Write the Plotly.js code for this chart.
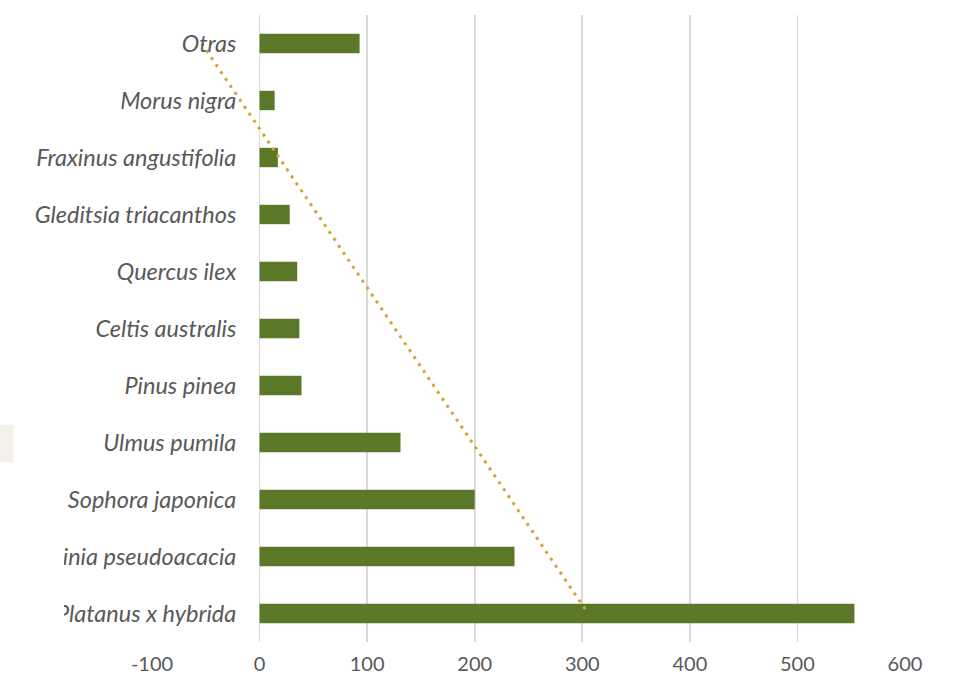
<!DOCTYPE html>
<html>
<head>
<meta charset="utf-8">
<script src="https://cdn.plot.ly/plotly-3.0.1.min.js"></script>
<style>html,body{margin:0;padding:0;background:#fff}#chart{width:956px;height:688px}</style>
</head>
<body>
<div id="chart"></div>
<script>
// Categories listed top to bottom as displayed
var species = ["Otras","Morus nigra","Fraxinus angustifolia","Gleditsia triacanthos","Quercus ilex","Celtis australis","Pinus pinea","Ulmus pumila","Sophora japonica","Robinia pseudoacacia","Platanus x hybrida"];
var counts = [93, 14, 17, 28, 35, 37, 39, 131, 200, 237, 553];
var xTickVals = [-100, 0, 100, 200, 300, 400, 500, 600];

// Linear trendline (least squares), index 1 = bottom category as in the source spreadsheet
var n = counts.length;
var idx = counts.map(function(_, k){ return n - k; });
var mx = idx.reduce(function(a,b){return a+b;},0)/n;
var my = counts.reduce(function(a,b){return a+b;},0)/n;
var sxy = 0, sxx = 0;
for (var k = 0; k < n; k++) { sxy += (idx[k]-mx)*(counts[k]-my); sxx += (idx[k]-mx)*(idx[k]-mx); }
var slope = sxy/sxx, icpt = my - slope*mx;
var trendY = [species[0], species[n-1]];
var trendX = [icpt + slope*idx[0], icpt + slope*idx[n-1]];

var bars = {
  type: "bar", orientation: "h", y: species, x: counts,
  marker: {color: "#5B7829"}, hoverinfo: "x+y", showlegend: false
};
var trend = {
  type: "scatter", mode: "lines", y: trendY, x: trendX,
  line: {color: "#D4A437", width: 3, dash: "3px,5.4px"}, showlegend: false, hoverinfo: "skip"
};

var L = 152, W = 753, T = 14.5, H = 628;
function px(v){ return (v - L)/W; }
function py(v){ return (T + H - v)/H; }

var FONT = "Lato, 'Open Sans', sans-serif";
var layout = {
  width: 956, height: 688,
  margin: {l: L, r: 956 - L - W, t: T, b: 688 - T - H, pad: 0},
  paper_bgcolor: "#ffffff", plot_bgcolor: "#ffffff",
  bargap: 0.66,
  font: {family: FONT, color: "#595959", size: 20},
  xaxis: {
    range: [-100, 600], tickvals: xTickVals, ticktext: xTickVals.map(String),
    showgrid: true, gridcolor: "#D9D9D9", gridwidth: 1.6, zeroline: true, zerolinecolor: "#D9D9D9", zerolinewidth: 1.6,
    showline: false, ticks: "outside", ticklen: 4, tickcolor: "rgba(0,0,0,0)",
    tickfont: {family: FONT, size: 20, color: "#595959"}, fixedrange: true
  },
  yaxis: {
    type: "category", autorange: false, range: [n - 0.5, -0.5],
    categoryorder: "array", categoryarray: species,
    anchor: "free", position: (260 - L)/W, showgrid: false, zeroline: false, showline: false,
    ticks: "outside", ticklen: 19, tickcolor: "rgba(0,0,0,0)",
    tickfont: {family: FONT, size: 23.5, color: "#595959", style: "italic"}, fixedrange: true
  },
  shapes: [
    {type: "rect", xref: "paper", yref: "paper", x0: px(-5), x1: px(64), y0: py(688), y1: py(470), fillcolor: "#ffffff", line: {width: 0}, layer: "above"},
    {type: "rect", xref: "paper", yref: "paper", x0: px(-5), x1: px(13.5), y0: py(462.5), y1: py(425), fillcolor: "#F4F0EA", line: {width: 0}, layer: "above"}
  ]
};

Plotly.newPlot("chart", [bars, trend], layout, {displayModeBar: false, staticPlot: true});
</script>
</body>
</html>
